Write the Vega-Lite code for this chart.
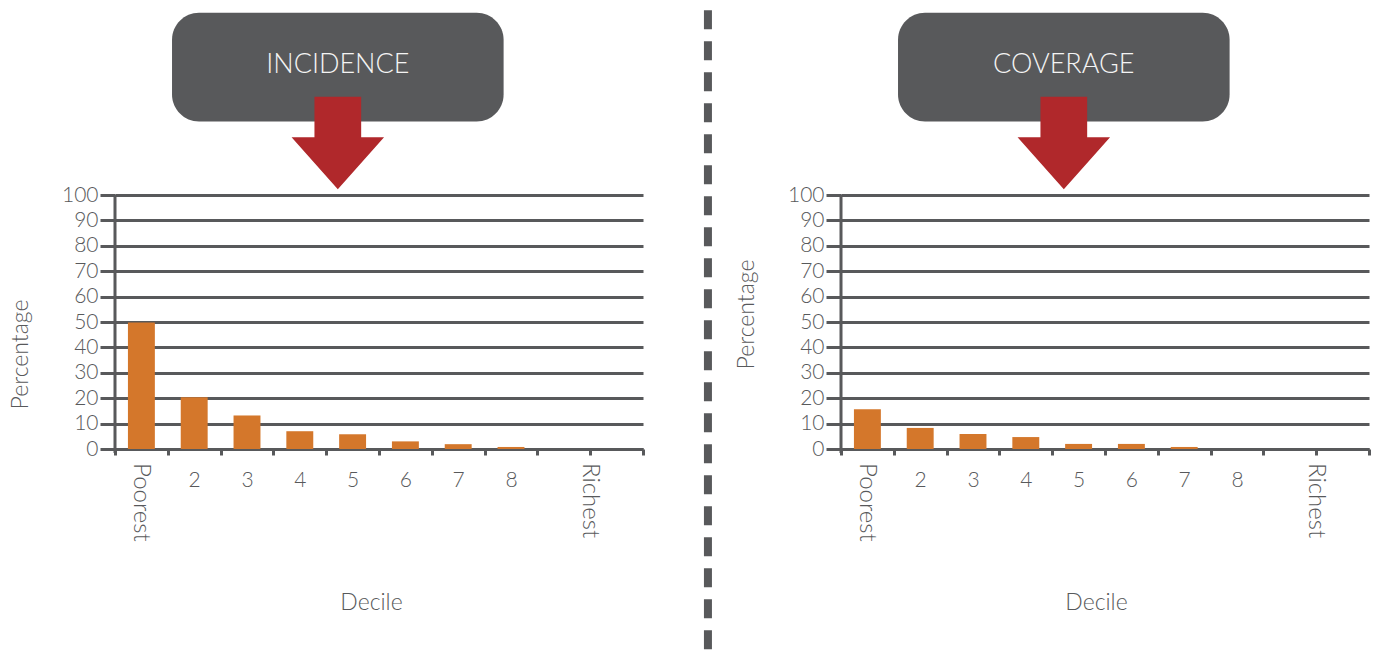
{
  "$schema": "https://vega.github.io/schema/vega-lite/v6.json",
  "background": "white",
  "padding": {"left": 9, "top": 2, "right": 0, "bottom": 0},
  "bounds": "flush",
  "spacing": 198,
  "config": {"view": {"stroke": null}, "font": "Lato"},
  "datasets": {
    "incidence": [
      {"decile": "Poorest", "pct": 49.8},
      {"decile": "2", "pct": 20.4},
      {"decile": "3", "pct": 13.2},
      {"decile": "4", "pct": 7.0},
      {"decile": "5", "pct": 5.8},
      {"decile": "6", "pct": 3.0},
      {"decile": "7", "pct": 1.9},
      {"decile": "8", "pct": 0.8},
      {"decile": "9", "pct": 0},
      {"decile": "Richest", "pct": 0}
    ],
    "coverage": [
      {"decile": "Poorest", "pct": 15.7},
      {"decile": "2", "pct": 8.3},
      {"decile": "3", "pct": 5.9},
      {"decile": "4", "pct": 4.7},
      {"decile": "5", "pct": 2.0},
      {"decile": "6", "pct": 2.0},
      {"decile": "7", "pct": 0.8},
      {"decile": "8", "pct": 0},
      {"decile": "9", "pct": 0},
      {"decile": "Richest", "pct": 0}
    ]
  },
  "hconcat": [
    {
      "width": 528,
      "height": 447,
      "resolve": {"scale": {"x": "independent"}},
      "layer": [
        {
          "data": {"name": "incidence"},
          "mark": {"type": "bar", "color": "#d4772b", "width": {"band": 0.51}},
          "encoding": {
            "x": {
              "field": "decile", "type": "nominal", "sort": null,
              "scale": {"domain": ["Poorest", "2", "3", "4", "5", "6", "7", "8", "9", "Richest"], "paddingInner": 0, "paddingOuter": 0},
              "axis": {
                "title": "Decile", "titleFontSize": 23, "titleFontWeight": 300, "titleColor": "#58595b",
                "titleX": 256, "titleY": 153, "titleBaseline": "middle", "titleAlign": "center",
                "labelExpr": "indexof(['Poorest','9','Richest'], datum.value) >= 0 ? '' : datum.value",
                "labelAngle": 0, "labelFontSize": 21, "labelFontWeight": 300, "labelColor": "#58595b", "labelPadding": 14, "labelFlush": false,
                "tickBand": "extent", "tickSize": 6, "tickWidth": 3, "tickColor": "#58595b",
                "domainColor": "#58595b", "domainWidth": 3, "grid": false
              }
            },
            "y": {
              "field": "pct", "type": "quantitative",
              "scale": {"domain": [0, 176], "nice": false},
              "axis": {
                "values": [0, 10, 20, 30, 40, 50, 60, 70, 80, 90, 100],
                "domain": false,
                "grid": true, "gridColor": "#58595b", "gridWidth": 3, "gridOpacity": 1,
                "tickSize": 15, "tickWidth": 3, "tickColor": "#58595b",
                "labelFontSize": 21, "labelFontWeight": 300, "labelColor": "#58595b", "labelPadding": 2, "labelFlush": false,
                "title": "Percentage", "titleFontSize": 23, "titleFontWeight": 300, "titleColor": "#58595b",
                "titleX": -95, "titleY": 352, "titleAngle": 270, "titleBaseline": "middle", "titleAlign": "center"
              }
            }
          }
        },
        {
          "data": {"name": "incidence"},
          "transform": [{"filter": "datum.decile === 'Poorest'"}],
          "mark": {"type": "text", "angle": 90, "align": "left", "baseline": "middle", "dx": 14, "fontSize": 24, "fontWeight": 300, "color": "#58595b", "clip": false},
          "encoding": {
            "x": {"field": "decile", "type": "nominal", "sort": null, "scale": {"domain": ["Poorest", "2", "3", "4", "5", "6", "7", "8", "9", "Richest"], "paddingInner": 0, "paddingOuter": 0}, "axis": null},
            "y": {"datum": 0, "type": "quantitative"},
            "text": {"field": "decile"}
          }
        },
        {
          "data": {"name": "incidence"},
          "transform": [{"filter": "datum.decile === 'Richest'"}],
          "mark": {"type": "text", "angle": 90, "align": "left", "baseline": "middle", "dx": 14, "dy": 27, "fontSize": 24, "fontWeight": 300, "color": "#58595b", "clip": false},
          "encoding": {
            "x": {"field": "decile", "type": "nominal", "sort": null, "scale": {"domain": ["Poorest", "2", "3", "4", "5", "6", "7", "8", "9", "Richest"], "paddingInner": 0, "paddingOuter": 0}, "axis": null},
            "y": {"datum": 0, "type": "quantitative"},
            "text": {"field": "decile"}
          }
        },
        {
          "data": {"values": [{}]},
          "mark": {"type": "rule", "color": "#58595b", "strokeWidth": 3, "clip": false},
          "encoding": {
            "x": {"datum": 0, "type": "quantitative", "scale": {"domain": [0, 10], "nice": false, "zero": false}, "axis": null},
            "y": {"datum": 100, "type": "quantitative"},
            "y2": {"datum": -1.6}
          }
        },
        {
          "data": {"values": [{}]},
          "mark": {"type": "rect", "color": "#58595b", "cornerRadius": 27, "clip": false},
          "encoding": {
            "x": {"datum": 1.08, "type": "quantitative", "scale": {"domain": [0, 10], "nice": false, "zero": false}, "axis": null},
            "x2": {"datum": 7.36},
            "y": {"datum": 171.8, "type": "quantitative"},
            "y2": {"datum": 128.9}
          }
        },
        {
          "data": {"values": [{}]},
          "mark": {"type": "text", "text": "INCIDENCE", "fontSize": 27, "fontWeight": 300, "color": "#f4f4f4", "align": "center", "baseline": "middle", "clip": false},
          "encoding": {
            "x": {"datum": 4.22, "type": "quantitative", "scale": {"domain": [0, 10], "nice": false, "zero": false}, "axis": null},
            "y": {"datum": 151, "type": "quantitative"}
          }
        },
        {
          "data": {"values": [{}]},
          "mark": {"type": "point", "shape": "M-0.505,-1L0.505,-1L0.505,-0.123L1,-0.123L0,1L-1,-0.123L-0.505,-0.123Z", "size": 8556, "filled": true, "color": "#b0282b", "opacity": 1, "strokeWidth": 0, "clip": false},
          "encoding": {
            "x": {"datum": 4.22, "type": "quantitative", "scale": {"domain": [0, 10], "nice": false, "zero": false}, "axis": null},
            "y": {"datum": 120.5, "type": "quantitative"}
          }
        },
        {
          "data": {"values": [{}]},
          "mark": {"type": "rule", "color": "#58595b", "strokeWidth": 8, "strokeDash": [19, 12], "strokeCap": "butt", "clip": false},
          "encoding": {
            "x": {"datum": 11.23, "type": "quantitative", "scale": {"domain": [0, 10], "nice": false, "zero": false}, "axis": null},
            "y": {"datum": 172.8, "type": "quantitative"},
            "y2": {"datum": -80.3}
          }
        }
      ]
    },
    {
      "width": 528,
      "height": 447,
      "resolve": {"scale": {"x": "independent"}},
      "layer": [
        {
          "data": {"name": "coverage"},
          "mark": {"type": "bar", "color": "#d4772b", "width": {"band": 0.51}},
          "encoding": {
            "x": {
              "field": "decile", "type": "nominal", "sort": null,
              "scale": {"domain": ["Poorest", "2", "3", "4", "5", "6", "7", "8", "9", "Richest"], "paddingInner": 0, "paddingOuter": 0},
              "axis": {
                "title": "Decile", "titleFontSize": 23, "titleFontWeight": 300, "titleColor": "#58595b",
                "titleX": 255, "titleY": 153, "titleBaseline": "middle", "titleAlign": "center",
                "labelExpr": "indexof(['Poorest','9','Richest'], datum.value) >= 0 ? '' : datum.value",
                "labelAngle": 0, "labelFontSize": 21, "labelFontWeight": 300, "labelColor": "#58595b", "labelPadding": 14, "labelFlush": false,
                "tickBand": "extent", "tickSize": 6, "tickWidth": 3, "tickColor": "#58595b",
                "domainColor": "#58595b", "domainWidth": 3, "grid": false
              }
            },
            "y": {
              "field": "pct", "type": "quantitative",
              "scale": {"domain": [0, 176], "nice": false},
              "axis": {
                "values": [0, 10, 20, 30, 40, 50, 60, 70, 80, 90, 100],
                "domain": false,
                "grid": true, "gridColor": "#58595b", "gridWidth": 3, "gridOpacity": 1,
                "tickSize": 15, "tickWidth": 3, "tickColor": "#58595b",
                "labelFontSize": 21, "labelFontWeight": 300, "labelColor": "#58595b", "labelPadding": 2, "labelFlush": false,
                "title": "Percentage", "titleFontSize": 23, "titleFontWeight": 300, "titleColor": "#58595b",
                "titleX": -95, "titleY": 312, "titleAngle": 270, "titleBaseline": "middle", "titleAlign": "center"
              }
            }
          }
        },
        {
          "data": {"name": "coverage"},
          "transform": [{"filter": "datum.decile === 'Poorest'"}],
          "mark": {"type": "text", "angle": 90, "align": "left", "baseline": "middle", "dx": 14, "fontSize": 24, "fontWeight": 300, "color": "#58595b", "clip": false},
          "encoding": {
            "x": {"field": "decile", "type": "nominal", "sort": null, "scale": {"domain": ["Poorest", "2", "3", "4", "5", "6", "7", "8", "9", "Richest"], "paddingInner": 0, "paddingOuter": 0}, "axis": null},
            "y": {"datum": 0, "type": "quantitative"},
            "text": {"field": "decile"}
          }
        },
        {
          "data": {"name": "coverage"},
          "transform": [{"filter": "datum.decile === 'Richest'"}],
          "mark": {"type": "text", "angle": 90, "align": "left", "baseline": "middle", "dx": 14, "dy": 27, "fontSize": 24, "fontWeight": 300, "color": "#58595b", "clip": false},
          "encoding": {
            "x": {"field": "decile", "type": "nominal", "sort": null, "scale": {"domain": ["Poorest", "2", "3", "4", "5", "6", "7", "8", "9", "Richest"], "paddingInner": 0, "paddingOuter": 0}, "axis": null},
            "y": {"datum": 0, "type": "quantitative"},
            "text": {"field": "decile"}
          }
        },
        {
          "data": {"values": [{}]},
          "mark": {"type": "rule", "color": "#58595b", "strokeWidth": 3, "clip": false},
          "encoding": {
            "x": {"datum": 0, "type": "quantitative", "scale": {"domain": [0, 10], "nice": false, "zero": false}, "axis": null},
            "y": {"datum": 100, "type": "quantitative"},
            "y2": {"datum": -1.6}
          }
        },
        {
          "data": {"values": [{}]},
          "mark": {"type": "rect", "color": "#58595b", "cornerRadius": 27, "clip": false},
          "encoding": {
            "x": {"datum": 1.08, "type": "quantitative", "scale": {"domain": [0, 10], "nice": false, "zero": false}, "axis": null},
            "x2": {"datum": 7.36},
            "y": {"datum": 171.8, "type": "quantitative"},
            "y2": {"datum": 128.9}
          }
        },
        {
          "data": {"values": [{}]},
          "mark": {"type": "text", "text": "COVERAGE", "fontSize": 27, "fontWeight": 300, "color": "#f4f4f4", "align": "center", "baseline": "middle", "clip": false},
          "encoding": {
            "x": {"datum": 4.22, "type": "quantitative", "scale": {"domain": [0, 10], "nice": false, "zero": false}, "axis": null},
            "y": {"datum": 151, "type": "quantitative"}
          }
        },
        {
          "data": {"values": [{}]},
          "mark": {"type": "point", "shape": "M-0.505,-1L0.505,-1L0.505,-0.123L1,-0.123L0,1L-1,-0.123L-0.505,-0.123Z", "size": 8556, "filled": true, "color": "#b0282b", "opacity": 1, "strokeWidth": 0, "clip": false},
          "encoding": {
            "x": {"datum": 4.22, "type": "quantitative", "scale": {"domain": [0, 10], "nice": false, "zero": false}, "axis": null},
            "y": {"datum": 120.5, "type": "quantitative"}
          }
        }
      ]
    }
  ]
}
